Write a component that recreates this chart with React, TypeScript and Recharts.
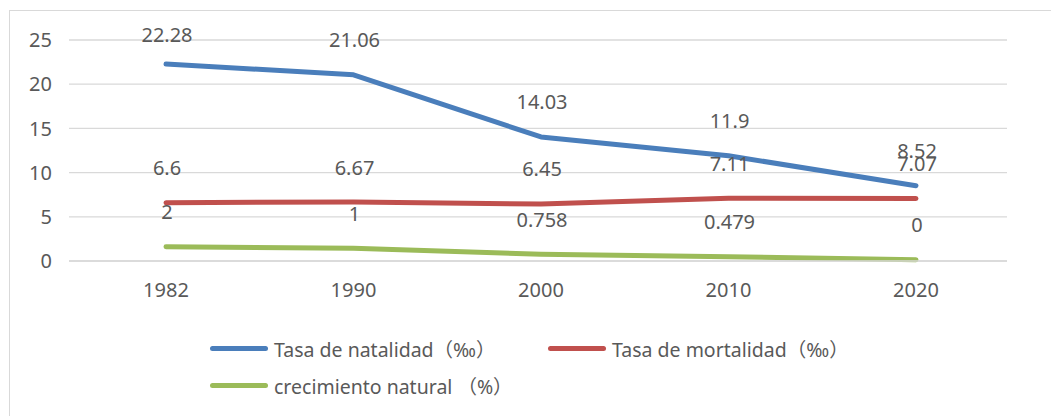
import React from "react";
import { LineChart, Line, XAxis, YAxis, CartesianGrid, LabelList } from "recharts";

const years = ["1982", "1990", "2000", "2010", "2020"];
const birthRate = [22.28, 21.06, 14.03, 11.9, 8.52];
const deathRate = [6.6, 6.67, 6.45, 7.11, 7.07];
const naturalGrowth = [1.6, 1.45, 0.758, 0.479, 0.15];
const growthLabels = ["2", "1", "0.758", "0.479", "0"];
const yTicks = [0, 5, 10, 15, 20, 25];

const seriesNames = [
  "Tasa de natalidad（‰）",
  "Tasa de mortalidad（‰）",
  "crecimiento natural （%）",
];
const COLORS = ["#4A7EBB", "#C0504D", "#9BBB59"];

const FONT = "'Noto Sans', 'Noto Sans CJK SC', sans-serif";
const TEXT = "#595959";

const data = years.map((year, i) => ({
  year,
  birth: birthRate[i],
  death: deathRate[i],
  growth: naturalGrowth[i],
  growthLabel: growthLabels[i],
}));

const renderLabel = (props: any) => {
  const { x, y, value } = props;
  const cy = Math.max(y - 35, 23);
  return (
    <text
      x={x + 1}
      y={cy}
      textAnchor="middle"
      dominantBaseline="central"
      fill={TEXT}
      fontSize={20}
      fontFamily={FONT}
    >
      {value}
    </text>
  );
};

const LegendItem: React.FC<{ color: string; name: string; left: number; top: number }> = ({
  color,
  name,
  left,
  top,
}) => (
  <div
    style={{
      position: "absolute",
      left,
      top,
      display: "flex",
      alignItems: "center",
      whiteSpace: "nowrap",
      fontFamily: FONT,
      fontSize: 19.5,
      color: TEXT,
    }}
  >
    <span
      style={{
        display: "inline-block",
        width: 58,
        height: 5,
        borderRadius: 3,
        background: color,
        marginRight: 6,
      }}
    />
    {name}
  </div>
);

const App: React.FC = () => {
  return (
    <div
      style={{
        position: "fixed",
        left: 0,
        top: 0,
        width: 1051,
        height: 416,
        overflow: "hidden",
        background: "#fff",
      }}
    >
      <div
        style={{
          position: "absolute",
          left: 9,
          top: 10,
          width: 1100,
          height: 450,
          border: "1px solid #D9D9D9",
        }}
      >
        <LineChart
          width={1040}
          height={400}
          data={data}
          margin={{ top: 29, right: 43, left: 0, bottom: 120 }}
        >
          <CartesianGrid vertical={false} stroke="#D9D9D9" strokeWidth={1.3} />
          <XAxis
            dataKey="year"
            height={30}
            axisLine={{ stroke: "#D9D9D9", strokeWidth: 1.3 }}
            tickLine={false}
            tickMargin={16}
            padding={{ left: 97, right: 91 }}
            tick={{ fill: TEXT, fontSize: 20, fontFamily: FONT }}
          />
          <YAxis
            width={59}
            domain={[0, 25]}
            ticks={yTicks}
            axisLine={false}
            tickLine={false}
            tickMargin={11}
            tick={{ fill: TEXT, fontSize: 20, fontFamily: FONT }}
          />
          <Line
            dataKey="birth"
            stroke={COLORS[0]}
            strokeWidth={5}
            strokeLinecap="round"
            strokeLinejoin="round"
            dot={false}
            isAnimationActive={false}
          >
            <LabelList dataKey="birth" content={renderLabel} />
          </Line>
          <Line
            dataKey="death"
            stroke={COLORS[1]}
            strokeWidth={5}
            strokeLinecap="round"
            strokeLinejoin="round"
            dot={false}
            isAnimationActive={false}
          >
            <LabelList dataKey="death" content={renderLabel} />
          </Line>
          <Line
            dataKey="growth"
            stroke={COLORS[2]}
            strokeWidth={5}
            strokeLinecap="round"
            strokeLinejoin="round"
            dot={false}
            isAnimationActive={false}
          >
            <LabelList dataKey="growthLabel" content={renderLabel} />
          </Line>
        </LineChart>
        <LegendItem color={COLORS[0]} name={seriesNames[0]} left={200} top={323} />
        <LegendItem color={COLORS[1]} name={seriesNames[1]} left={538} top={323} />
        <LegendItem color={COLORS[2]} name={seriesNames[2]} left={200} top={360} />
      </div>
    </div>
  );
};

export default App;
